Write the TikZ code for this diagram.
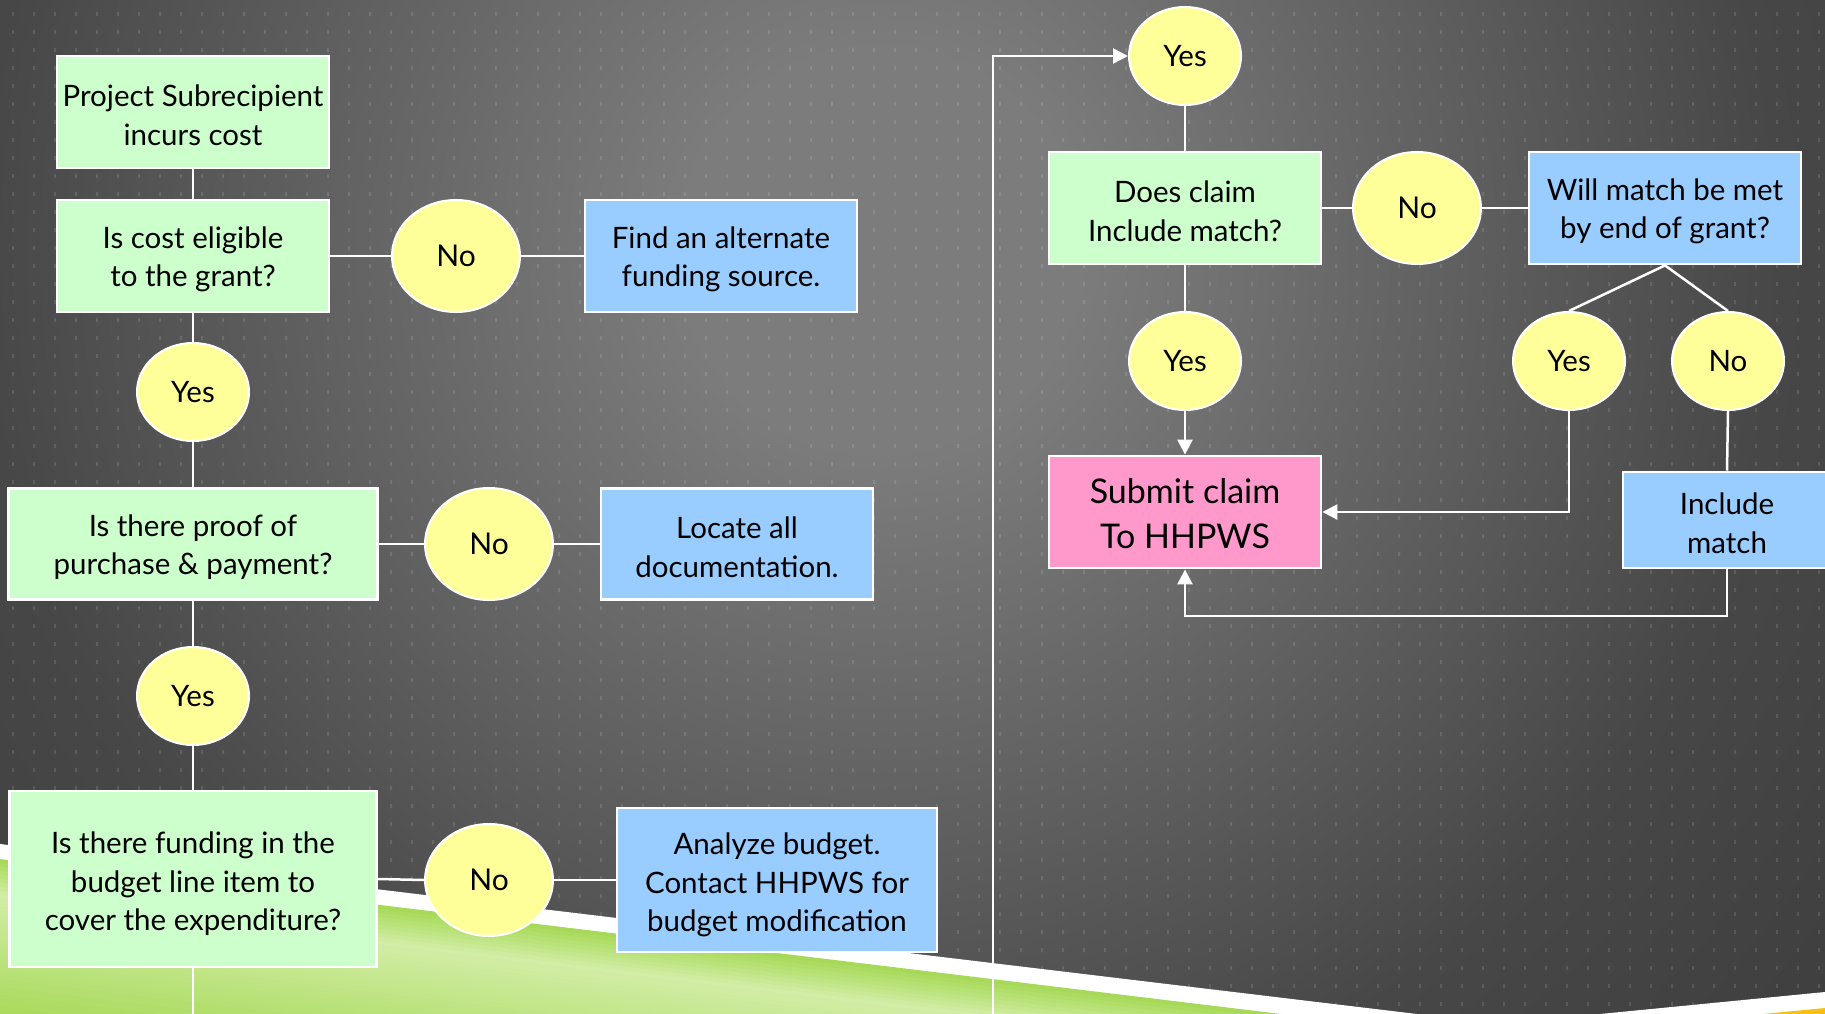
\documentclass[tikz,border=0pt]{standalone}
\usepackage{fontspec}
\setmainfont{Lato}
\usetikzlibrary{shapes.geometric,arrows.meta}
\definecolor{boxgreen}{HTML}{CCFFCC}
\definecolor{boxblue}{HTML}{99CCFF}
\definecolor{ovalyellow}{HTML}{FFFF99}
\definecolor{boxpink}{HTML}{FF99CC}
\definecolor{bgA}{HTML}{7C7C7C}
\definecolor{bgB}{HTML}{474747}
\definecolor{bgC}{HTML}{3E3E3E}
\definecolor{gstrong}{HTML}{A6D957}
\definecolor{gpale}{HTML}{D2EDA6}
\definecolor{stripeyellow}{HTML}{F5C012}
\newcommand{\tstrut}{\rule{0pt}{28pt}}
\newcommand{\tstrutb}{\rule{0pt}{32pt}}
\newcommand{\tstrutc}{\rule{0pt}{29pt}}
\pgfdeclareradialshading{bgshade}{\pgfpoint{0bp}{0bp}}{color(0bp)=(bgA); color(4bp)=(bgA); color(18bp)=(bgB); color(25bp)=(bgC); color(50bp)=(bgC)}
\begin{document}
\begin{tikzpicture}[x=1pt,y=-1pt,
  conn/.style={white,line width=2.5pt},
  arr/.style={conn,-{Triangle[length=15pt,width=15pt]}},
  boxbase/.style={rectangle,draw=white,line width=2.8pt,align=center,inner sep=0pt,text=black,font=\fontsize{29.5}{38.5}\selectfont},
  gbox/.style={boxbase,fill=boxgreen},
  bbox/.style={boxbase,fill=boxblue},
  pbox/.style={boxbase,fill=boxpink,font=\fontsize{34}{45}\selectfont},
  noval/.style={ellipse,draw=white,line width=2pt,fill=ovalyellow,inner sep=0pt,text=black,minimum width=128pt,minimum height=112pt,font=\fontsize{30}{35}\selectfont},
  yoval/.style={ellipse,draw=white,line width=2pt,fill=ovalyellow,inner sep=0pt,text=black,minimum width=112pt,minimum height=98pt,font=\fontsize{29.5}{35}\selectfont}
]
\useasboundingbox (0,0) rectangle (1825,1014);
% background
\begin{scope}
\clip (0,0) rectangle (1825,1014);
\shade[shading=bgshade] (880,250) circle[radius=1250];
\fill[white,fill opacity=0.12] \foreach \i in {0,...,86}{\foreach \j in {0,...,55}{(12+21*\i,12+18*\j) rectangle ++(2,4)}};
\fill[white] (0,844) -- (1417,1014) -- (0,1014) -- cycle;
\begin{scope}
\clip (0,859) -- (1281,1014) -- (0,1014) -- cycle;
\foreach \d in {0,4,...,160}{
  \pgfmathsetmacro\gmix{\d<35 ? 100*\d/35 : max(0,100-100*(\d-35)/125)}
  \fill[gpale!\gmix!gstrong] (0,859+\d) -- (1300,1016.3+\d) -- (1300,1021.8+\d) -- (0,864.5+\d) -- cycle;
}
\end{scope}
\fill[white] (1600,1014) -- (1825,992) -- (1825,1014) -- cycle;
\fill[stripeyellow] (1763,1014) -- (1825,1008) -- (1825,1014) -- cycle;
\end{scope}

% left column
\node[gbox,minimum width=272pt,minimum height=112pt] (p1) at (193,112) {\tstrut Project Subrecipient\\incurs cost};
\node[gbox,minimum width=272pt,minimum height=112pt] (p2) at (193,256) {\tstrut Is cost eligible\\to the grant?};
\node[noval] (n1) at (456,256) {No};
\node[bbox,minimum width=272pt,minimum height=112pt] (b1) at (721,256) {\tstrut Find an alternate\\funding source.};
\node[yoval] (y1) at (193,392) {Yes};
\node[gbox,minimum width=369pt,minimum height=111pt] (p3) at (193,544) {\tstrut Is there proof of\\purchase \& payment?};
\node[noval] (n2) at (489,544) {No};
\node[bbox,minimum width=272pt,minimum height=111pt] (b2) at (737,544) {\tstrut Locate all\\documentation.};
\node[yoval] (y2) at (193,696) {Yes};
\node[gbox,minimum width=367pt,minimum height=176pt] (p4) at (193,879) {\tstrutb Is there funding in the\\budget line item to\\cover the expenditure?};
\node[noval] (n3) at (489,880) {No};
\node[bbox,minimum width=320pt,minimum height=144pt] (b3) at (777,880) {\tstrutb Analyze budget.\\Contact HHPWS for\\budget modification};

% right part
\node[yoval] (y3) at (1185,56) {Yes};
\node[gbox,minimum width=272pt,minimum height=112pt] (p5) at (1185,208) {\tstrut Does claim\\Include match?};
\node[noval] (n4) at (1417,208) {No};
\node[bbox,minimum width=272pt,minimum height=112pt] (b4) at (1665,208) {\tstrut Will match be met\\by end of grant?};
\node[yoval] (y4) at (1185,361) {Yes};
\node[pbox,minimum width=272pt,minimum height=112pt] (pk) at (1185,512) {\tstrutc Submit claim\\To HHPWS};
\node[yoval] (y5) at (1569,361) {Yes};
\node[yoval] (n5) at (1728,361) {No};
\node[bbox,minimum width=208pt,minimum height=96pt] (b5) at (1727,520) {\tstrut Include\\match};

\coordinate (leftend) at (193,1014);
\coordinate (loopstart) at (993,1014);
\coordinate (loopback) at (1185,616);

% connectors
\draw[conn] (p1.south) -- (p2.north);
\draw[conn] (p2.south) -- (y1.north);
\draw[conn] (y1.south) -- (p3.north);
\draw[conn] (p3.south) -- (y2.north);
\draw[conn] (y2.south) -- (p4.north);
\draw[conn] (p4.south) -- (leftend);
\draw[conn] (p2.east) -- (n1.west);
\draw[conn] (n1.east) -- (b1.west);
\draw[conn] (p3.east) -- (n2.west);
\draw[conn] (n2.east) -- (b2.west);
\draw[conn] (p4.east) -- (n3.west);
\draw[conn] (n3.east) -- (b3.west);
\draw[arr] (loopstart) |- (y3.west);
\draw[conn] (y3.south) -- (p5.north);
\draw[conn] (p5.south) -- (y4.north);
\draw[arr] (y4.south) -- (pk.north);
\draw[conn] (p5.east) -- (n4.west);
\draw[conn] (n4.east) -- (b4.west);
\draw[conn] (b4.south) -- (y5.north);
\draw[conn] (b4.south) -- (n5.north);
\draw[arr] (y5.south) |- (pk.east);
\draw[conn] (n5.south) -- (b5.north);
\draw[arr] (b5.south) |- (loopback) -- (pk.south);
\end{tikzpicture}
\end{document}
